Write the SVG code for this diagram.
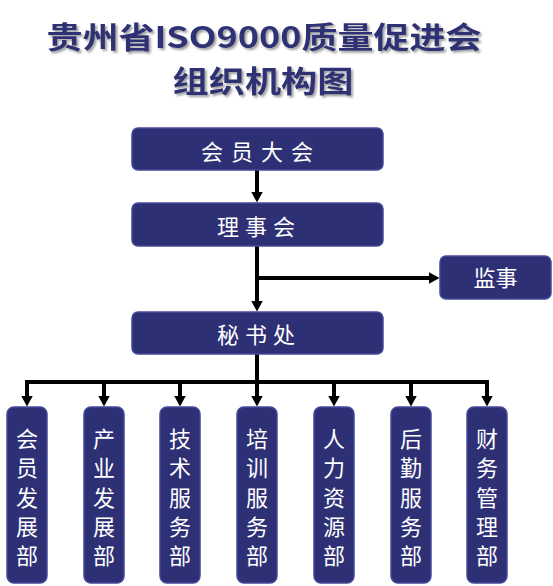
<svg xmlns="http://www.w3.org/2000/svg" width="553" height="586" viewBox="0 0 553 586">
<style>
.title{font-family:"Noto Sans CJK SC","Liberation Sans",sans-serif;font-weight:bold;font-size:30px;fill:#2E3175;}
.box{fill:#2E3076;stroke:#45489A;stroke-width:1.5;}
.lbl{font-family:"Noto Sans CJK SC","Liberation Sans",sans-serif;font-size:22px;fill:#FFFFFF;text-anchor:middle;}
.conn{stroke:#000;stroke-width:4;fill:none;}
</style>
<defs>
<filter id="sh" x="-5%" y="-20%" width="110%" height="150%">
<feDropShadow dx="2" dy="2" stdDeviation="1" flood-color="#8a8a8a" flood-opacity="0.8"/>
</filter>
<marker id="ah" markerUnits="userSpaceOnUse" viewBox="0 0 11 12" markerWidth="11" markerHeight="12" refX="0.5" refY="6" orient="auto">
<path d="M0,0 L11,6 L0,12 z" fill="#000"/>
</marker>
</defs>
<g id="title" filter="url(#sh)">
<text class="title" x="264" y="48" text-anchor="middle" textLength="435" lengthAdjust="spacingAndGlyphs">贵州省ISO9000质量促进会</text>
<text class="title" x="263" y="92" text-anchor="middle" textLength="181" lengthAdjust="spacingAndGlyphs">组织机构图</text>
</g>
<g id="connectors">
<path class="conn" d="M257,170 V192" marker-end="url(#ah)"/>
<path class="conn" d="M257,246 V301" marker-end="url(#ah)"/>
<path class="conn" d="M257,278 H429" marker-end="url(#ah)"/>
<path class="conn" d="M257,354 V382"/>
<path class="conn" d="M25,382 H489"/>
<path class="conn" d="M27,380 V396" marker-end="url(#ah)"/>
<path class="conn" d="M104,382 V396" marker-end="url(#ah)"/>
<path class="conn" d="M180,382 V396" marker-end="url(#ah)"/>
<path class="conn" d="M257,382 V396" marker-end="url(#ah)"/>
<path class="conn" d="M334,382 V396" marker-end="url(#ah)"/>
<path class="conn" d="M411,382 V396" marker-end="url(#ah)"/>
<path class="conn" d="M487,380 V396" marker-end="url(#ah)"/>
</g>
<g id="n_huiyuandahui">
<rect class="box" x="132" y="128" width="251" height="42" rx="6"/>
<text class="lbl" x="261" y="160" letter-spacing="8">会员大会</text>
</g>
<g id="n_lishihui">
<rect class="box" x="132" y="203" width="251" height="43" rx="6"/>
<text class="lbl" x="259" y="235" letter-spacing="6">理事会</text>
</g>
<g id="n_jianshi">
<rect class="box" x="440" y="256" width="111" height="43" rx="6"/>
<text class="lbl" x="495.5" y="286">监事</text>
</g>
<g id="n_mishuchu">
<rect class="box" x="132" y="312" width="251" height="42" rx="6"/>
<text class="lbl" x="259" y="343" letter-spacing="6">秘书处</text>
</g>
<g id="d1">
<rect class="box" x="7" y="407" width="40" height="176" rx="7"/>
<text class="lbl" x="27"><tspan x="27" y="447">会</tspan><tspan x="27" y="476">员</tspan><tspan x="27" y="506">发</tspan><tspan x="27" y="535">展</tspan><tspan x="27" y="564">部</tspan></text>
</g>
<g id="d2">
<rect class="box" x="84" y="407" width="40" height="176" rx="7"/>
<text class="lbl" x="104"><tspan x="104" y="447">产</tspan><tspan x="104" y="476">业</tspan><tspan x="104" y="506">发</tspan><tspan x="104" y="535">展</tspan><tspan x="104" y="564">部</tspan></text>
</g>
<g id="d3">
<rect class="box" x="160" y="407" width="40" height="176" rx="7"/>
<text class="lbl" x="180"><tspan x="180" y="447">技</tspan><tspan x="180" y="476">术</tspan><tspan x="180" y="506">服</tspan><tspan x="180" y="535">务</tspan><tspan x="180" y="564">部</tspan></text>
</g>
<g id="d4">
<rect class="box" x="237" y="407" width="40" height="176" rx="7"/>
<text class="lbl" x="257"><tspan x="257" y="447">培</tspan><tspan x="257" y="476">训</tspan><tspan x="257" y="506">服</tspan><tspan x="257" y="535">务</tspan><tspan x="257" y="564">部</tspan></text>
</g>
<g id="d5">
<rect class="box" x="314" y="407" width="40" height="176" rx="7"/>
<text class="lbl" x="334"><tspan x="334" y="447">人</tspan><tspan x="334" y="476">力</tspan><tspan x="334" y="506">资</tspan><tspan x="334" y="535">源</tspan><tspan x="334" y="564">部</tspan></text>
</g>
<g id="d6">
<rect class="box" x="391" y="407" width="40" height="176" rx="7"/>
<text class="lbl" x="411"><tspan x="411" y="447">后</tspan><tspan x="411" y="476">勤</tspan><tspan x="411" y="506">服</tspan><tspan x="411" y="535">务</tspan><tspan x="411" y="564">部</tspan></text>
</g>
<g id="d7">
<rect class="box" x="467" y="407" width="40" height="176" rx="7"/>
<text class="lbl" x="487"><tspan x="487" y="447">财</tspan><tspan x="487" y="476">务</tspan><tspan x="487" y="506">管</tspan><tspan x="487" y="535">理</tspan><tspan x="487" y="564">部</tspan></text>
</g>
</svg>
